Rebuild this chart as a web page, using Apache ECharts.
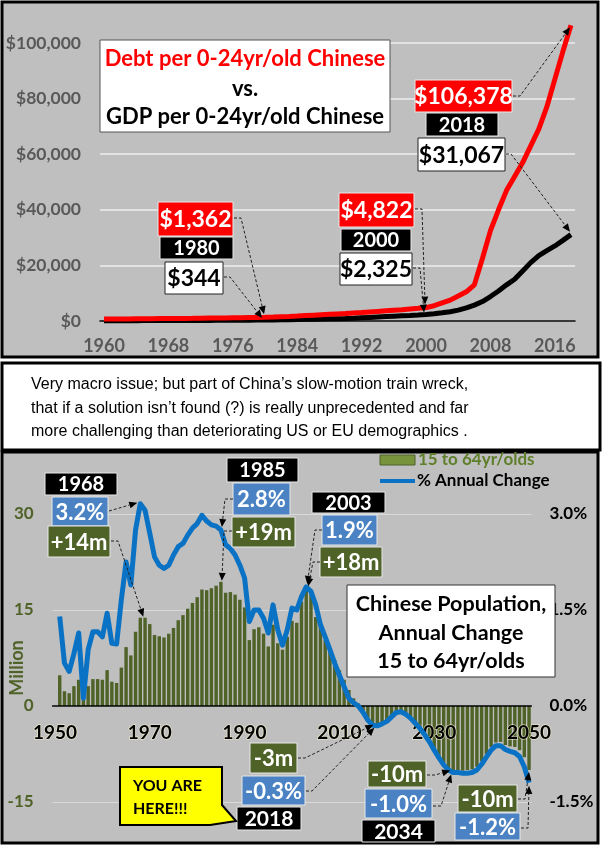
<!DOCTYPE html>
<html><head><meta charset="utf-8">
<script src="https://cdn.jsdelivr.net/npm/echarts@6/dist/echarts.min.js"></script>
<style>html,body{margin:0;padding:0;background:#fff;}#c{width:603px;height:849px;}</style>
</head><body><div id="c"></div>
<script>
// ---------- top chart data ----------
const topYears = ['1960','1961','1962','1963','1964','1965','1966','1967','1968','1969','1970','1971','1972','1973','1974','1975','1976','1977','1978','1979','1980','1981','1982','1983','1984','1985','1986','1987','1988','1989','1990','1991','1992','1993','1994','1995','1996','1997','1998','1999','2000','2001','2002','2003','2004','2005','2006','2007','2008','2009','2010','2011','2012','2013','2014','2015','2016','2017','2018'];
const debtPerYouth = [700,720,740,760,780,800,830,860,880,900,930,960,1000,1040,1080,1120,1160,1200,1250,1300,1362,1450,1550,1650,1780,1950,2100,2250,2400,2550,2700,2900,3050,3250,3450,3650,3850,4050,4300,4550,4822,5500,6500,7500,9000,10500,13000,22500,32500,40000,47000,52000,57000,63000,69000,77000,87000,97000,106378];
const gdpPerYouth = [100,110,110,120,130,140,150,150,160,170,180,190,200,215,230,250,260,280,300,320,344,380,420,470,530,600,650,720,800,850,900,1000,1150,1300,1450,1600,1750,1880,2000,2150,2325,2600,2950,3350,3900,4700,5700,7000,8800,10800,13000,15000,18000,21000,23500,25300,27000,29000,31067];

// ---------- bottom chart data ----------
const popYears = ['1950','1951','1952','1953','1954','1955','1956','1957','1958','1959','1960','1961','1962','1963','1964','1965','1966','1967','1968','1969','1970','1971','1972','1973','1974','1975','1976','1977','1978','1979','1980','1981','1982','1983','1984','1985','1986','1987','1988','1989','1990','1991','1992','1993','1994','1995','1996','1997','1998','1999','2000','2001','2002','2003','2004','2005','2006','2007','2008','2009','2010','2011','2012','2013','2014','2015','2016','2017','2018','2019','2020','2021','2022','2023','2024','2025','2026','2027','2028','2029','2030','2031','2032','2033','2034','2035','2036','2037','2038','2039','2040','2041','2042','2043','2044','2045','2046','2047','2048','2049','2050'];
const workingAgeChangeM = [null,4.8,2.3,2.0,3.1,4.1,1.0,3.1,4.2,4.2,4.1,5.6,3.8,3.6,6.0,9.2,7.9,11.6,13.8,13.8,12.8,11.1,10.9,10.7,11.3,12.2,13.4,14.2,15.2,16.1,17.0,18.2,18.1,18.4,18.8,19.4,17.7,17.8,17.4,16.6,15.4,10.3,12.0,12.3,11.3,9.3,12.7,9.8,8.8,10.8,13.3,13.0,16.3,18.4,17.6,13.9,12.4,10.3,8.8,7.2,5.6,4.1,2.5,1.2,0.4,-0.9,-2.0,-2.8,-3.1,-2.8,-2.3,-1.7,-1.0,-0.9,-1.3,-1.9,-2.7,-3.5,-4.5,-5.5,-6.8,-7.9,-9.0,-9.7,-10.0,-10.0,-10.1,-10.0,-9.9,-9.5,-8.6,-7.5,-6.4,-5.7,-5.6,-6.1,-6.3,-6.4,-6.9,-8.0,-10.0];
const annualChangePct = [null,1.40,0.67,0.54,0.82,1.14,0.12,0.88,1.16,1.16,1.08,1.45,0.98,0.97,1.66,2.25,1.89,2.75,3.16,3.06,2.70,2.33,2.20,2.15,2.20,2.36,2.49,2.54,2.67,2.78,2.85,2.98,2.89,2.83,2.81,2.75,2.52,2.46,2.36,2.20,2.00,1.32,1.50,1.50,1.37,1.14,1.58,1.19,0.95,1.19,1.53,1.50,1.71,1.86,1.79,1.58,1.27,1.08,0.88,0.67,0.48,0.30,0.12,0.05,0.00,-0.10,-0.22,-0.30,-0.31,-0.28,-0.24,-0.17,-0.10,-0.09,-0.13,-0.19,-0.27,-0.35,-0.45,-0.56,-0.69,-0.81,-0.92,-1.00,-1.04,-1.04,-1.05,-1.05,-1.04,-1.00,-0.91,-0.80,-0.69,-0.62,-0.62,-0.68,-0.71,-0.73,-0.79,-0.95,-1.20];
const legendNames = ['15 to 64yr/olds', '% Annual Change'];

const F = 'Lato, "Open Sans", sans-serif';
const chart = echarts.init(document.getElementById('c'), null, {renderer:'canvas'});

const option = {
  animation: false,
  backgroundColor: '#ffffff',
  grid: [
    {left: 100, right: 28, top: 43, bottom: 528, containLabel: false, outerBoundsMode: 'none'},
    {left: 52.6, right: 71.6, top: 514, bottom: 47, containLabel: false, outerBoundsMode: 'none'},
    // helper grid whose bottom edge is the zero line of the population chart (carries the year axis)
    {left: 52.6, right: 71.6, top: 514, bottom: 143, containLabel: false, outerBoundsMode: 'none'}
  ],
  xAxis: [
    {type: 'category', gridIndex: 0, data: topYears, boundaryGap: true,
     axisLine: {lineStyle: {color: '#000', width: 1.5}}, axisTick: {show: false},
     axisLabel: {interval: 7, color: '#595959', fontFamily: F, fontWeight: 'bold', fontSize: 18, margin: 16},
     splitLine: {show: false}},
    {type: 'category', gridIndex: 1, data: popYears, boundaryGap: true,
     axisLine: {show: false}, axisTick: {show: false}, axisLabel: {show: false}, splitLine: {show: false}},
    {type: 'category', gridIndex: 2, data: popYears, boundaryGap: true, position: 'bottom',
     axisLine: {onZero: false, lineStyle: {color: '#000', width: 1.5}}, axisTick: {show: false},
     axisLabel: {interval: 19, color: '#000', fontFamily: F, fontWeight: 'bold', fontSize: 19, margin: 17,
                 textBorderColor: 'rgba(255,250,210,0.6)', textBorderWidth: 1.5},
     splitLine: {show: false}, z: 5}
  ],
  yAxis: [
    {type: 'value', gridIndex: 0, min: 0, max: 100000, interval: 20000,
     axisLine: {show: false}, axisTick: {show: false},
     axisLabel: {formatter: v => '$' + v.toLocaleString('en-US'), color: '#595959', fontFamily: F, fontWeight: 'bold', fontSize: 17.5, margin: 19},
     splitLine: {lineStyle: {color: '#eeeeee', width: 1.5}}},
    {type: 'value', gridIndex: 1, min: -15, max: 30, interval: 15, position: 'left',
     axisLine: {show: false}, axisTick: {show: false},
     axisLabel: {color: '#4f6228', fontFamily: F, fontWeight: 'bold', fontSize: 17, margin: 19},
     splitLine: {lineStyle: {color: '#dadada', width: 1}}},
    {type: 'value', gridIndex: 1, min: -1.5, max: 3, interval: 1.5, position: 'right',
     axisLine: {show: false}, axisTick: {show: false},
     axisLabel: {formatter: v => v.toFixed(1) + '%', color: '#000', fontFamily: F, fontWeight: 'bold', fontSize: 17, margin: 18},
     splitLine: {show: false}},
    {type: 'value', gridIndex: 2, min: 0, max: 1, show: false}
  ],
  series: [
    {name: 'GDP', type: 'line', xAxisIndex: 0, yAxisIndex: 0, data: gdpPerYouth, symbol: 'none', clip: false,
     lineStyle: {color: '#000', width: 5}, itemStyle: {color: '#000'}, z: 3},
    {name: 'Debt', type: 'line', xAxisIndex: 0, yAxisIndex: 0, data: debtPerYouth, symbol: 'none', clip: false,
     lineStyle: {color: '#ff0000', width: 5}, itemStyle: {color: '#ff0000'}, z: 4},
    {name: legendNames[0], type: 'bar', xAxisIndex: 1, yAxisIndex: 1, data: workingAgeChangeM,
     barCategoryGap: '28%', itemStyle: {color: '#4f6228'}, z: 2},
    {name: legendNames[1], type: 'line', xAxisIndex: 1, yAxisIndex: 2, data: annualChangePct, symbol: 'none', clip: false,
     lineStyle: {color: '#0a72c4', width: 5, join: 'round'}, itemStyle: {color: '#0a72c4'}, z: 6}
  ]
};
chart.setOption(option);

// ---------- decorations ----------
const Z = 100;
function rect(x, y, w, h, fill, stroke, lw, z) {
  return {type: 'rect', z: z, shape: {x: x, y: y, width: w, height: h}, style: {fill: fill, stroke: stroke, lineWidth: lw}};
}
function txt(s, x, y, color, font, align, z, extra) {
  const st = {text: s, x: x, y: y, fill: color, font: font,
    align: align || 'center', verticalAlign: 'middle', textAlign: align || 'center', textVerticalAlign: 'middle'};
  if (extra) Object.assign(st, extra);
  return {type: 'text', z: z || Z + 1, style: st};
}
function box(x, y, w, h, fill, stroke, s, color, fs) {
  return [rect(x, y, w, h, fill, stroke, 1, Z), txt(s, x + w / 2, y + h / 2 + 1, color, 'bold ' + fs + 'px ' + F, 'center', Z + 1)];
}
function arrow(pts) {
  const n = pts.length, q = pts[n - 1], p = pts[n - 2];
  const dx = q[0] - p[0], dy = q[1] - p[1], L = Math.sqrt(dx * dx + dy * dy) || 1;
  const ux = dx / L, uy = dy / L, hl = 8, hw = 3.5;
  const bx = q[0] - ux * hl, by = q[1] - uy * hl;
  return [
    {type: 'polyline', z: Z + 2, shape: {points: pts.slice(0, n - 1).concat([[bx, by]])}, style: {stroke: '#222', lineWidth: 1, lineDash: [3, 2], fill: null}},
    {type: 'polygon', z: Z + 2, shape: {points: [q, [bx - uy * hw, by + ux * hw], [bx + uy * hw, by - ux * hw]]}, style: {fill: '#000'}}
  ];
}
const px = (si, cats, cat, v) => chart.convertToPixel({seriesIndex: si}, [cats.indexOf(cat), v]);
const tIdx = y => topYears.indexOf(y), pIdx = y => popYears.indexOf(y);

const RED = '#ff0000', BLK = '#000', WHT = '#ffffff', OLV = '#4f6228', BLU = '#4a82c3', LB = '#e8e8e8';
let g = [];
// panels
g.push(rect(2, 2, 596, 355, '#bfbfbf', '#000', 3, -100));
g.push(rect(2, 452, 596, 391, '#bfbfbf', '#000', 3, -100));
g.push(rect(2, 363, 598, 87, '#ffffff', '#000', 3, Z));
const MF = '16px "Liberation Sans", Arial, sans-serif';
g.push(txt('Very macro issue; but part of China\u2019s slow-motion train wreck,', 31, 385, '#000', MF, 'left'));
g.push(txt('that if a solution isn\u2019t found (?) is really unprecedented and far', 31, 409, '#000', MF, 'left'));
g.push(txt('more challenging than deteriorating US or EU demographics .', 31, 432, '#000', MF, 'left'));

// top title box
g.push(rect(100, 40, 290, 92, WHT, '#555', 1, Z));
g.push(txt('Debt per 0-24yr/old Chinese', 245, 59, RED, 'bold 22px ' + F));
g.push(txt('vs.', 245, 89, BLK, 'bold 22px ' + F));
g.push(txt('GDP per 0-24yr/old Chinese', 245, 117, BLK, 'bold 22px ' + F));

// top annotations
g = g.concat(box(158, 202, 75, 34, RED, LB, '$1,362', WHT, 23));
g = g.concat(box(160, 237, 73, 22, BLK, LB, '1980', WHT, 20));
g = g.concat(box(165, 262, 58, 32, WHT, '#222', '$344', BLK, 23));
g = g.concat(box(339, 193, 75, 34, RED, LB, '$4,822', WHT, 23));
g = g.concat(box(341, 229, 70, 22, BLK, LB, '2000', WHT, 20));
g = g.concat(box(340, 253, 72, 32, WHT, '#222', '$2,325', BLK, 23));
g = g.concat(box(415, 80, 97, 32, RED, LB, '$106,378', WHT, 23));
g = g.concat(box(426, 113, 72, 23, BLK, LB, '2018', WHT, 20));
g = g.concat(box(418, 138, 87, 33, WHT, '#222', '$31,067', BLK, 23));

let p;
p = px(1, topYears, '1980', debtPerYouth[tIdx('1980')]);
g = g.concat(arrow([[234, 218], [241, 218], [p[0] - 1, p[1] - 3]]));
p = px(0, topYears, '1980', gdpPerYouth[tIdx('1980')]);
g = g.concat(arrow([[224, 277], [230, 277], [p[0] - 3, p[1] - 2]]));
p = px(1, topYears, '2000', debtPerYouth[tIdx('2000')]);
g = g.concat(arrow([[415, 209], [422, 209], [p[0] - 1, p[1] - 3]]));
p = px(0, topYears, '2000', gdpPerYouth[tIdx('2000')]);
g = g.concat(arrow([[413, 268], [420, 268], [p[0] - 2, p[1] - 2]]));
p = px(1, topYears, '2018', debtPerYouth[tIdx('2018')]);
g = g.concat(arrow([[513, 96], [520, 96], [p[0] - 1, p[1] + 2]]));
p = px(0, topYears, '2018', gdpPerYouth[tIdx('2018')]);
g = g.concat(arrow([[506, 154], [511, 154], [p[0] - 1, p[1] - 3]]));

// bottom: axis name and legend
g.push({type: 'text', z: Z, x: 17, y: 668, rotation: Math.PI / 2,
  style: {text: 'Million', x: 0, y: 0, fill: '#4f6228', font: 'bold 18px ' + F, align: 'center', verticalAlign: 'middle', textAlign: 'center', textVerticalAlign: 'middle'}});
g.push(rect(380, 455, 35, 10, '#77933c', '#4f6228', 1, Z));
g.push(txt(legendNames[0], 418, 460, '#5f7f2a', 'bold 17px ' + F, 'left'));
g.push({type: 'line', z: Z, shape: {x1: 380, y1: 481, x2: 415, y2: 481}, style: {stroke: '#0a72c4', lineWidth: 4}});
g.push(txt(legendNames[1], 417, 481, '#000', 'bold 17px ' + F, 'left'));

// bottom annotations
g = g.concat(box(45, 473, 72, 22, BLK, LB, '1968', WHT, 20));
g = g.concat(box(52, 497, 56, 29, BLU, LB, '3.2%', WHT, 22));
g = g.concat(box(48, 526, 62, 31, OLV, LB, '+14m', WHT, 22));
p = px(3, popYears, '1968', annualChangePct[pIdx('1968')]);
g = g.concat(arrow([[109, 511], [p[0] - 3, p[1] - 1]]));
p = px(2, popYears, '1968', workingAgeChangeM[pIdx('1968')]);
g = g.concat(arrow([[111, 541], [118, 541], [p[0] + 3, p[1] - 1]]));

g = g.concat(box(227, 458, 71, 24, BLK, LB, '1985', WHT, 20));
g = g.concat(box(233, 483, 57, 32, BLU, LB, '2.8%', WHT, 22));
g = g.concat(box(232, 517, 63, 30, OLV, LB, '+19m', WHT, 22));
p = px(3, popYears, '1985', annualChangePct[pIdx('1985')]);
g = g.concat(arrow([[233, 499], [225, 499], [p[0] + 1, p[1] - 3]]));
p = px(2, popYears, '1985', workingAgeChangeM[pIdx('1985')]);
g = g.concat(arrow([[232, 531], [224, 531], [p[0] + 1, p[1] - 1]]));

g = g.concat(box(312, 492, 73, 21, BLK, LB, '2003', WHT, 20));
g = g.concat(box(322, 515, 55, 30, BLU, LB, '1.9%', WHT, 22));
g = g.concat(box(320, 547, 62, 30, OLV, LB, '+18m', WHT, 22));
p = px(3, popYears, '2003', annualChangePct[pIdx('2003')]);
g = g.concat(arrow([[322, 530], [315, 530], [p[0] + 1, p[1] - 3]]));
p = px(2, popYears, '2003', workingAgeChangeM[pIdx('2003')]);
g = g.concat(arrow([[320, 562], [313, 562], [p[0] + 2, p[1] - 2]]));

// title box bottom
g.push(rect(347, 585, 208, 92, WHT, '#333', 1, Z));
g.push(txt('Chinese Population,', 451, 604, BLK, 'bold 21.5px ' + F));
g.push(txt('Annual Change', 451, 633, BLK, 'bold 21.5px ' + F));
g.push(txt('15 to 64yr/olds', 451, 661, BLK, 'bold 21.5px ' + F));

// 2018
g = g.concat(box(250, 743, 47, 30, OLV, LB, '-3m', WHT, 22));
g = g.concat(box(242, 776, 63, 29, BLU, LB, '-0.3%', WHT, 22));
g = g.concat(box(237, 807, 64, 23, BLK, LB, '2018', WHT, 21));
p = px(3, popYears, '2018', annualChangePct[pIdx('2018')]);
g = g.concat(arrow([[298, 758], [305, 758], [p[0] - 4, p[1] - 1]]));
g = g.concat(arrow([[306, 791], [312, 791], [p[0] - 3, p[1] + 2]]));
// you are here callout
g.push({type: 'polygon', z: Z, shape: {points: [[120, 767], [222, 767], [222, 805], [236, 821], [210, 825], [120, 825]]}, style: {fill: '#ffff00', stroke: '#000', lineWidth: 2}});
g.push(txt('YOU ARE', 133, 786, BLK, 'bold 16px ' + F, 'left'));
g.push(txt('HERE!!!', 133, 809, BLK, 'bold 16px ' + F, 'left'));

// 2034
g = g.concat(box(368, 761, 58, 26, OLV, LB, '-10m', WHT, 22));
g = g.concat(box(365, 789, 67, 29, BLU, LB, '-1.0%', WHT, 22));
g = g.concat(box(362, 820, 73, 22, BLK, LB, '2034', WHT, 21));
p = px(3, popYears, '2034', annualChangePct[pIdx('2034')]);
g = g.concat(arrow([[427, 775], [435, 775], [p[0] - 3, p[1] - 2]]));
g = g.concat(arrow([[433, 806], [441, 806], [p[0] - 2, p[1] + 2]]));

// 2050
g = g.concat(box(458, 785, 59, 27, OLV, LB, '-10m', WHT, 22));
g = g.concat(box(455, 813, 65, 27, BLU, LB, '-1.2%', WHT, 22));
p = px(2, popYears, '2050', workingAgeChangeM[pIdx('2050')]);
g = g.concat(arrow([[518, 799], [525, 799], [p[0], p[1] + 2]]));
p = px(3, popYears, '2050', annualChangePct[pIdx('2050')]);
g = g.concat(arrow([[521, 828], [528, 828], [p[0], p[1] + 3]]));

chart.setOption({graphic: {elements: g}});
</script>
</body></html>
